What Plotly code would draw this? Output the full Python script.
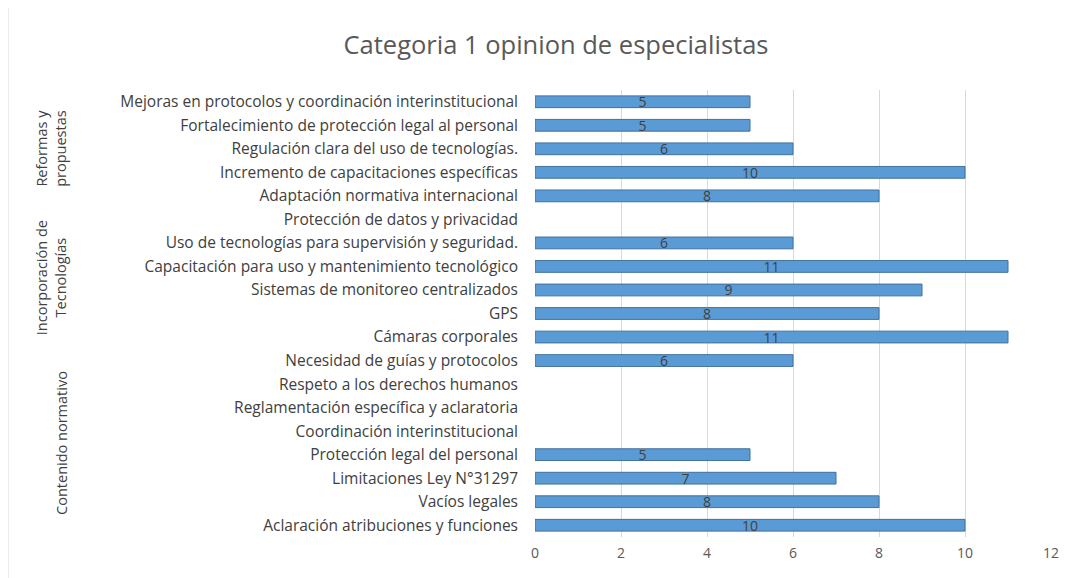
import plotly.graph_objects as go

categories = [
    "Mejoras en protocolos y coordinación interinstitucional",
    "Fortalecimiento de protección legal al personal",
    "Regulación clara del uso de tecnologías.",
    "Incremento de capacitaciones específicas",
    "Adaptación normativa internacional",
    "Protección de datos y privacidad",
    "Uso de tecnologías para supervisión y seguridad.",
    "Capacitación para uso y mantenimiento tecnológico",
    "Sistemas de monitoreo centralizados",
    "GPS",
    "Cámaras corporales",
    "Necesidad de guías y protocolos",
    "Respeto a los derechos humanos",
    "Reglamentación específica y aclaratoria",
    "Coordinación interinstitucional",
    "Protección legal del personal",
    "Limitaciones Ley N°31297",
    "Vacíos legales",
    "Aclaración atribuciones y funciones",
]
values = [5, 5, 6, 10, 8, None, 6, 11, 9, 8, 11, 6, None, None, None, 5, 7, 8, 10]

groups = [
    ("Reformas y<br>propuestas", categories[0], categories[4]),
    ("Incorporación de<br>Tecnologías", categories[5], categories[10]),
    ("Contenido normativo", categories[11], categories[18]),
]

text_color = "#404040"
font_family = "Open Sans, Lato, sans-serif"

# page body has an 8px offset, margins are set for that
W, H = 1087, 578
L, R, T, B = 527, 44, 82, 49
plot_w = W - L - R


def px_to_paper_x(px):
    return (px - 8 - L) / plot_w


fig = go.Figure(
    go.Bar(
        x=values,
        y=categories,
        orientation="h",
        width=0.5,
        marker=dict(color="#5B9BD5", line=dict(color="#41719C", width=1)),
        text=[str(v) if v is not None else "" for v in values],
        textposition="inside",
        insidetextanchor="middle",
        textangle=0,
        constraintext="none",
        textfont=dict(color=text_color, size=14, family=font_family),
        hoverinfo="skip",
    )
)

for label, first, last in groups:
    i0 = categories.index(first)
    i1 = categories.index(last)
    fig.add_annotation(
        x=px_to_paper_x(51 if "<br>" in label else 62),
        xref="paper",
        y=(i0 + i1) / 2,
        yref="y",
        text=label,
        textangle=-90,
        showarrow=False,
        font=dict(size=14.5, color=text_color, family=font_family),
        xanchor="center",
        yanchor="middle",
    )

fig.update_layout(
    width=W,
    height=H,
    paper_bgcolor="white",
    plot_bgcolor="white",
    margin=dict(l=L, r=R, t=T, b=B),
    showlegend=False,
    title=dict(
        text="Categoria 1 opinion de especialistas",
        x=(556 - 8) / W,
        xanchor="center",
        y=1 - 37 / H,
        yanchor="middle",
        yref="container",
        font=dict(size=25.5, color="#595959", family=font_family),
    ),
    xaxis=dict(
        range=[0, 12],
        dtick=2,
        showgrid=True,
        gridcolor="#D9D9D9",
        gridwidth=1,
        zeroline=False,
        tickfont=dict(size=14, color="#595959", family=font_family),
        ticklabelstandoff=6,
        fixedrange=True,
    ),
    yaxis=dict(
        autorange="reversed",
        showgrid=False,
        showline=False,
        tickfont=dict(size=15.5, color=text_color, family=font_family),
        ticklabelstandoff=16,
        fixedrange=True,
    ),
    shapes=[
        dict(
            type="line",
            xref="paper",
            yref="paper",
            x0=px_to_paper_x(8),
            x1=px_to_paper_x(8),
            y0=-B / (H - T - B),
            y1=(H - B) / (H - T - B),
            line=dict(color="#D9D9D9", width=1),
        )
    ],
)

fig.write_html("out.html")
